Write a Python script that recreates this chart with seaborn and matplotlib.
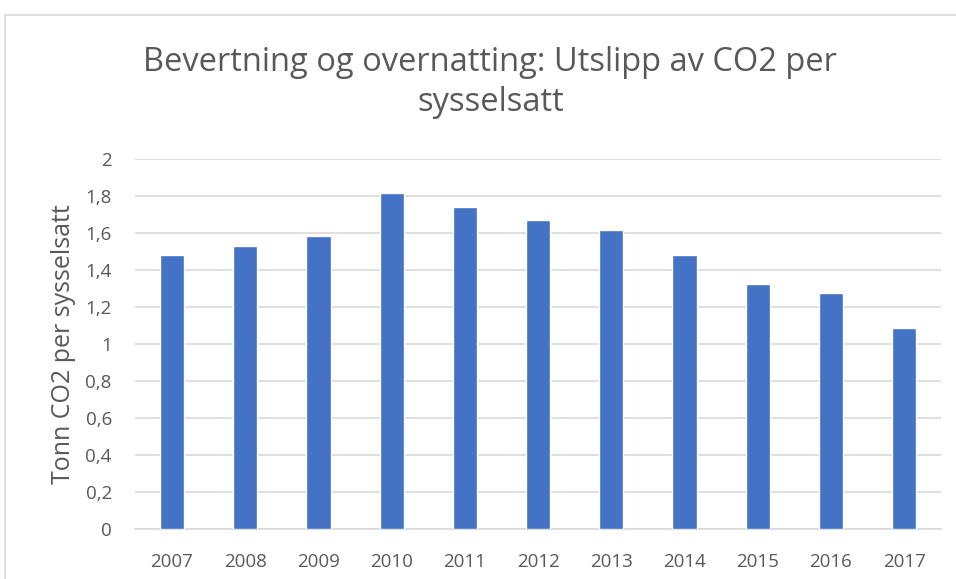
import matplotlib
matplotlib.use("Agg")
import matplotlib.pyplot as plt
import seaborn as sns
import pandas as pd
from matplotlib.patches import Rectangle

# data
years = ["2007", "2008", "2009", "2010", "2011", "2012",
         "2013", "2014", "2015", "2016", "2017"]
co2_per_employee = [1.48, 1.53, 1.585, 1.815, 1.742, 1.67,
                    1.616, 1.484, 1.324, 1.277, 1.09]
y_ticks = [0, 0.2, 0.4, 0.6, 0.8, 1, 1.2, 1.4, 1.6, 1.8, 2]
y_tick_labels = ["0", "0,2", "0,4", "0,6", "0,8", "1", "1,2", "1,4", "1,6", "1,8", "2"]

df = pd.DataFrame({"year": years, "value": co2_per_employee})

sns.set_style("white")
plt.rcParams["font.family"] = ["Open Sans", "DejaVu Sans"]
text_color = "#595959"

fig = plt.figure(figsize=(9.56, 5.79), dpi=100)
ax = fig.add_axes([0.1416, 0.0858, 0.8425, 0.6392])

sns.barplot(data=df, x="year", y="value", color="#4472C4", width=0.33,
            saturation=1, ax=ax, zorder=3)

ax.set_ylim(0, 2)
ax.set_yticks(y_ticks)
ax.set_yticklabels(y_tick_labels)
ax.yaxis.grid(True, color="#d9d9d9", linewidth=1.2, zorder=0)
ax.xaxis.grid(False)
for side in ["top", "right", "left"]:
    ax.spines[side].set_visible(False)
ax.spines["bottom"].set_color("#d9d9d9")
ax.spines["bottom"].set_linewidth(1.2)
ax.tick_params(axis="both", length=0, labelsize=13.5, colors=text_color)
ax.tick_params(axis="x", pad=17)
ax.tick_params(axis="y", pad=17)
ax.set_xlabel("")
ax.set_ylabel("Tonn CO2 per sysselsatt", fontsize=18, color=text_color, labelpad=7)

fig.text(0.513, 0.857, "Bevertning og overnatting: Utslipp av CO2 per\nsysselsatt",
         ha="center", va="center", fontsize=23.5, color=text_color, linespacing=1.27)

# chart area border (cropped on the right and bottom)
fig.patches.append(Rectangle((5 / 956, -0.1), 1.2, 1 - 15 / 579 + 0.1,
                             transform=fig.transFigure, fill=False,
                             edgecolor="#d9d9d9", linewidth=1.2))

fig.savefig("out.png", dpi=100)
